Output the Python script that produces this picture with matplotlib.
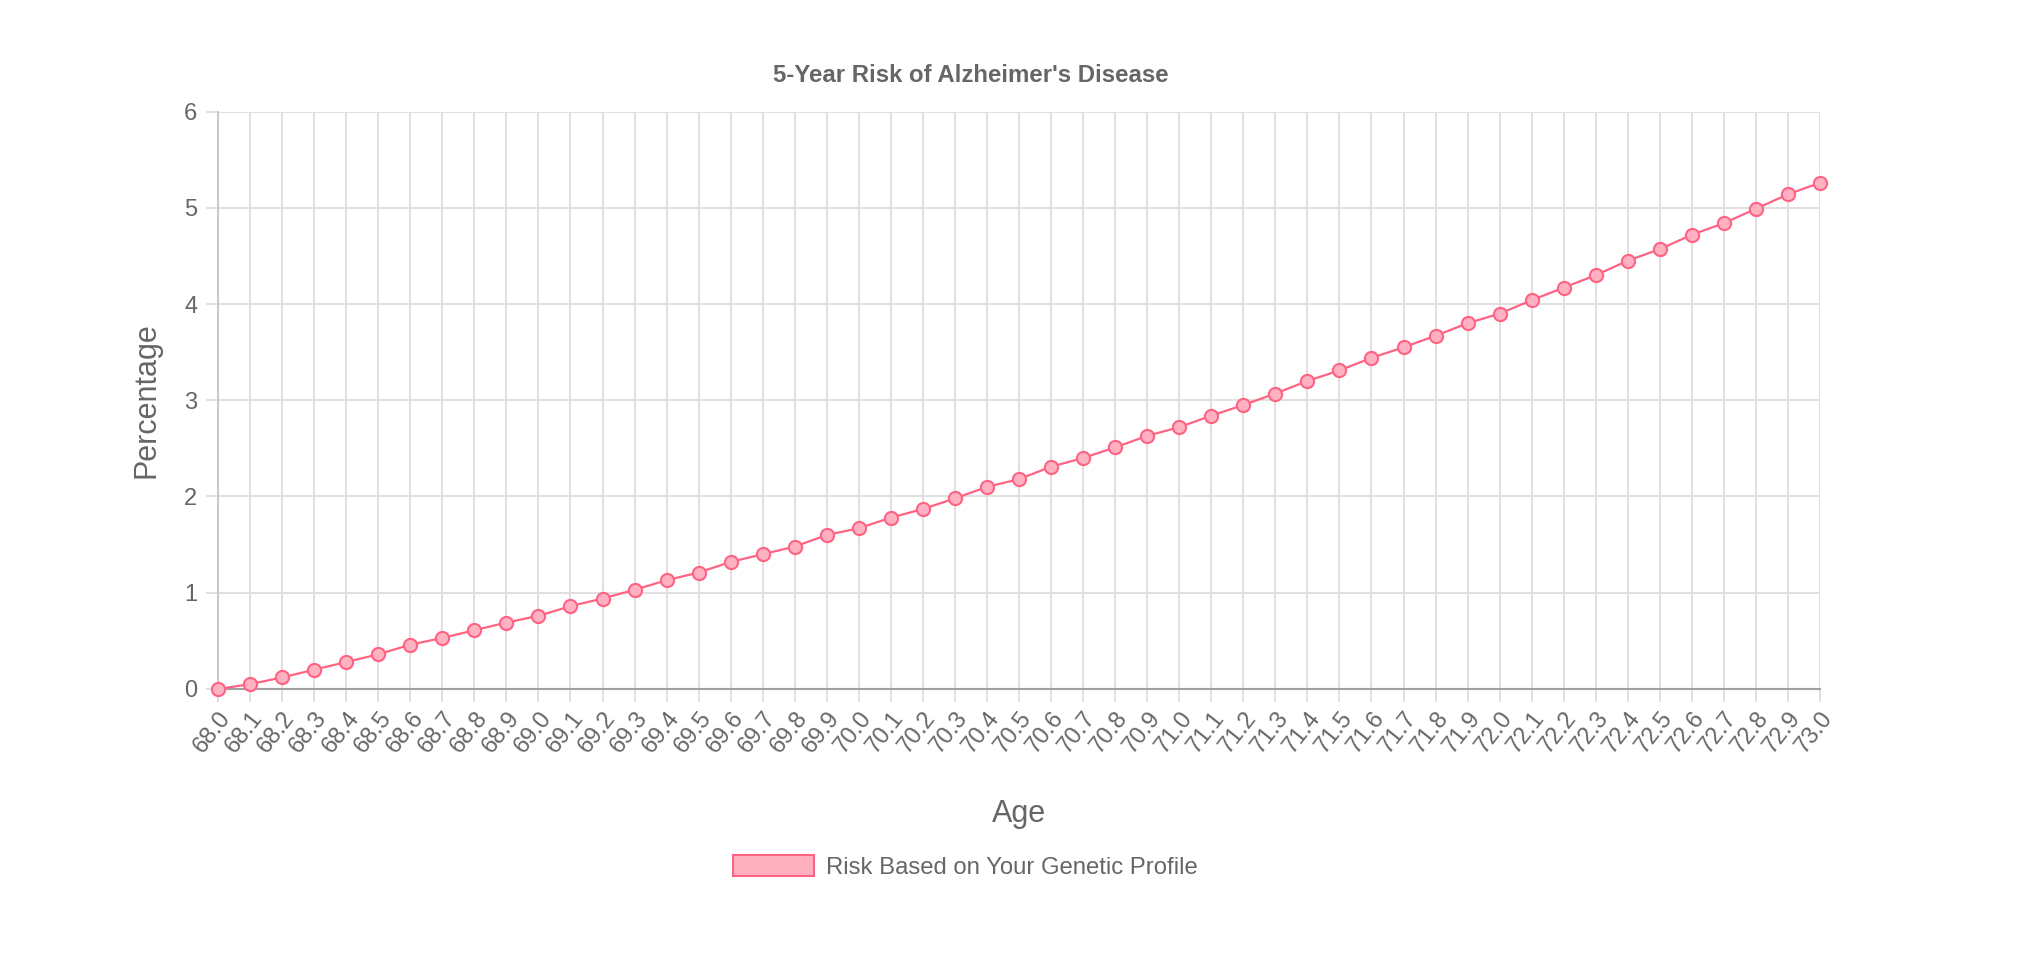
import matplotlib
matplotlib.use("Agg")
import matplotlib.pyplot as plt
from matplotlib.patches import Patch

plt.rcParams["font.family"] = ["Liberation Sans", "DejaVu Sans"]

# data
ages = [
    "68.0", "68.1", "68.2", "68.3", "68.4", "68.5", "68.6", "68.7", "68.8", "68.9",
    "69.0", "69.1", "69.2", "69.3", "69.4", "69.5", "69.6", "69.7", "69.8", "69.9",
    "70.0", "70.1", "70.2", "70.3", "70.4", "70.5", "70.6", "70.7", "70.8", "70.9",
    "71.0", "71.1", "71.2", "71.3", "71.4", "71.5", "71.6", "71.7", "71.8", "71.9",
    "72.0", "72.1", "72.2", "72.3", "72.4", "72.5", "72.6", "72.7", "72.8", "72.9",
    "73.0",
]
risk = [
    0.00, 0.05, 0.12, 0.20, 0.28, 0.36, 0.46, 0.53, 0.61, 0.69,
    0.76, 0.86, 0.94, 1.03, 1.13, 1.21, 1.32, 1.40, 1.48, 1.60,
    1.67, 1.78, 1.87, 1.98, 2.10, 2.18, 2.31, 2.40, 2.51, 2.63,
    2.72, 2.84, 2.95, 3.07, 3.20, 3.31, 3.44, 3.55, 3.67, 3.80,
    3.90, 4.04, 4.17, 4.30, 4.45, 4.57, 4.72, 4.84, 4.99, 5.14,
    5.26,
]
y_ticks = [0, 1, 2, 3, 4, 5, 6]

line_color = "#ff6384"
fill_color = "#ffb1c1"
text_color = "#666666"
grid_color = "#e0e0e0"

fig = plt.figure(figsize=(20.34, 9.64), dpi=100)
ax = fig.add_axes([0.1072, 0.2853, 0.7876, 0.599])

x = list(range(len(ages)))
ax.plot(x, risk, color=line_color, linewidth=1.6, marker="o", markersize=9.5,
        markerfacecolor=fill_color, markeredgecolor=line_color, markeredgewidth=1.5,
        zorder=3, clip_on=False)

ax.set_xlim(0, len(ages) - 1)
ax.set_ylim(0, 6)
ax.set_xticks(x)
ax.set_xticklabels(ages, rotation=52, ha="right", rotation_mode="anchor")
ax.set_yticks(y_ticks)

# grid lines like chart.js
ax.grid(True, color=grid_color, linewidth=1.4, zorder=0)
for side in ["top", "right"]:
    ax.spines[side].set_visible(False)
ax.spines["left"].set_color("#c8c8c8")
ax.spines["bottom"].set_color("#a0a0a0")
ax.spines["left"].set_linewidth(1.4)
ax.spines["bottom"].set_linewidth(1.5)
ax.tick_params(axis="both", colors=grid_color, length=9, width=1.4, labelcolor=text_color,
               labelsize=17)
ax.tick_params(axis="x", pad=4)
ax.tick_params(axis="y", pad=6)

ax.set_title("5-Year Risk of Alzheimer's Disease", fontsize=17.3, fontweight="bold",
             color=text_color, pad=21, x=0.47)
ax.set_xlabel("Age", fontsize=22, color=text_color, labelpad=30)
ax.set_ylabel("Percentage", fontsize=22, color=text_color, labelpad=16)

handle = Patch(facecolor=fill_color, edgecolor=line_color, linewidth=1.5)
fig.legend([handle], ["Risk Based on Your Genetic Profile"], loc="center",
           bbox_to_anchor=(0.4745, 0.101), frameon=False, fontsize=17.2,
           labelcolor=text_color, handlelength=3.4, handleheight=1.0, handletextpad=0.5)

fig.savefig("out.png", dpi=100, facecolor="white")
